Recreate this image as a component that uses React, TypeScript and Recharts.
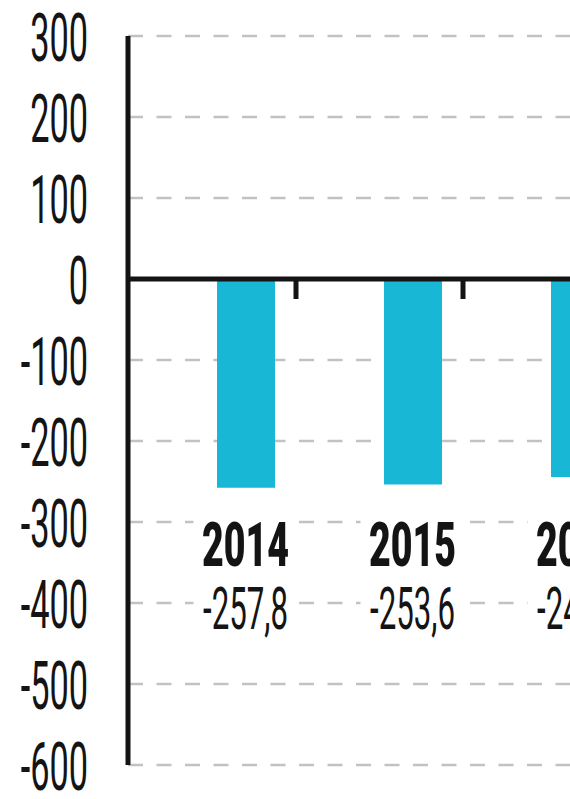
import React from 'react';
import { BarChart, Bar, XAxis, YAxis, CartesianGrid, ReferenceLine, ReferenceDot } from 'recharts';

const years = ['2014', '2015', '2016'];
const balance = [-257.8, -253.6, -244.4];
const yTicks = [300, 200, 100, 0, -100, -200, -300, -400, -500, -600];
// value level on the y scale where the year captions sit
const captionLevel = -354;

const data = years.map((year, i) => ({ year, value: balance[i] }));

const fmt = (v: number) => v.toFixed(1).replace('.', ',');

const ink = '#141414';
const barColor = '#18b7d5';

const YTick = ({ x, y, payload }: any) => (
  <text
    transform={`translate(${x},${y + 25}) scale(0.52,1)`}
    textAnchor="end"
    fontFamily="Roboto, 'DejaVu Sans'"
    fontWeight={400}
    fontSize={66}
    fill={ink}
  >
    {payload.value}
  </text>
);

const Caption = ({ cx, cy, year, value }: any) => (
  <g>
    <rect x={cx - 52} y={cy - 48} width={104} height={122} fill="#fff" />
    <text
      x={cx}
      y={cy}
      textAnchor="middle"
      fontFamily="Roboto, 'DejaVu Sans'"
      fontWeight={900}
      fontSize={62}
      fill={ink}
      textLength={87}
      lengthAdjust="spacingAndGlyphs"
    >
      {year}
    </text>
    <text
      x={cx}
      y={cy + 63}
      textAnchor="middle"
      fontFamily="Roboto, 'DejaVu Sans'"
      fontWeight={400}
      fontSize={59}
      fill={ink}
      textLength={85}
      lengthAdjust="spacingAndGlyphs"
    >
      {fmt(value)}
    </text>
  </g>
);

const TickMark = ({ cx, cy }: any) => <rect x={cx + 48} y={cy} width={5} height={20} fill={ink} />;

export default function App() {
  return (
    <div style={{ position: 'fixed', left: 0, top: 0, width: 570, height: 799, overflow: 'hidden', background: '#fff' }}>
      <BarChart width={663} height={799} data={data} margin={{ top: 36, right: 0, bottom: 34, left: 0 }}>
        <CartesianGrid vertical={false} stroke="#c2c2c2" strokeWidth={2.5} strokeDasharray="15 13.5" />
        <XAxis dataKey="year" type="category" hide padding={{ left: 34, right: 0 }} />
        <YAxis
          type="number"
          domain={[-600, 300]}
          ticks={yTicks}
          interval={0}
          width={128}
          tickSize={0}
          tickMargin={40}
          tickLine={false}
          axisLine={{ stroke: ink, strokeWidth: 5 }}
          tick={<YTick />}
        />
        <Bar dataKey="value" fill={barColor} barSize={58} isAnimationActive={false} />
        <ReferenceLine y={0} stroke={ink} strokeWidth={5} />
        {data.map(d => (
          <ReferenceDot key={'t' + d.year} x={d.year} y={0} r={0} shape={(p: any) => <TickMark {...p} />} />
        ))}
        {data.map(d => (
          <ReferenceDot
            key={'c' + d.year}
            x={d.year}
            y={captionLevel}
            r={0}
            shape={(p: any) => <Caption {...p} year={d.year} value={d.value} />}
          />
        ))}
      </BarChart>
    </div>
  );
}
